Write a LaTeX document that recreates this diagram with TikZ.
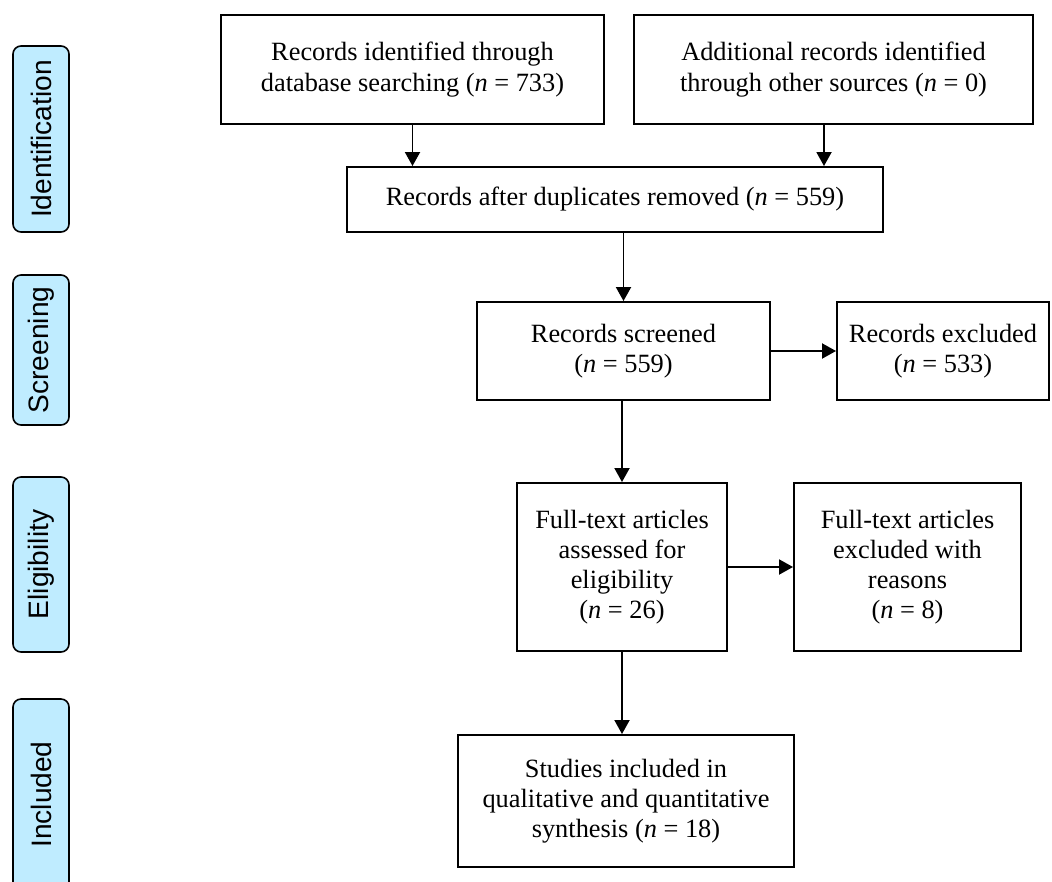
\documentclass[tikz,border=0pt]{standalone}
\usepackage{fontspec}
\setmainfont{Liberation Serif}
\setsansfont{Liberation Sans}
\usepackage{xcolor}
\usepackage{tikz}
\usetikzlibrary{positioning,arrows.meta,calc}
\definecolor{phasecolor}{RGB}{191,236,255}
\tikzset{
  flow box/.style={
    rectangle,
    draw=black,
    line width=1.1pt,
    align=center,
    inner sep=2pt,
    font=\fontsize{15}{17.2}\selectfont
  },
  phase label/.style={
    rectangle,
    rounded corners=0.16cm,
    draw=black,
    fill=phasecolor,
    line width=0.9pt,
    rotate=90,
    minimum height=1.12cm,
    inner sep=1pt,
    font=\sffamily\fontsize{16}{19}\selectfont
  },
  arrow/.style={
    -{Triangle[length=0.28cm,width=0.3cm]},
    line width=1.1pt
  }
}
\newcommand{\nval}[1]{(\textit{n} = #1)}

\begin{document}
\begin{tikzpicture}
  \useasboundingbox (0,0) rectangle (21.04,-17.64);

  % Phase labels
  \node[phase label, minimum width=3.72cm] (ident) at (0.82,-2.78) {Identification};
  \node[phase label, minimum width=3.00cm] (screen) at (0.82,-7.00) {Screening};
  \node[phase label, minimum width=3.50cm] (elig) at (0.82,-11.29) {Eligibility};
  \node[phase label, minimum width=3.82cm] (incl) at (0.82,-15.89) {Included};

  % Flow boxes
  \node[flow box, minimum width=7.66cm, minimum height=2.18cm] (db) at (8.25,-1.39)
    {Records identified through\\database searching \nval{733}};
  \node[flow box, minimum width=7.98cm, minimum height=2.18cm] (other) at (16.67,-1.39)
    {Additional records identified\\through other sources \nval{0}};
  \node[flow box, minimum width=10.72cm, minimum height=1.30cm] (dup) at (12.30,-3.99)
    {Records after duplicates removed \nval{559}};
  \node[flow box, minimum width=5.86cm, minimum height=1.96cm] (scr) at (12.47,-7.02)
    {Records screened\\\nval{559}};
  \node[flow box, minimum width=4.24cm, minimum height=1.96cm] (excl) at (18.86,-7.02)
    {Records excluded\\\nval{533}};
  \node[flow box, minimum width=4.20cm, minimum height=3.36cm] (full) at (12.44,-11.34)
    {Full-text articles\\assessed for\\eligibility\\\nval{26}};
  \node[flow box, minimum width=4.54cm, minimum height=3.36cm] (reas) at (18.15,-11.34)
    {Full-text articles\\excluded with\\reasons\\\nval{8}};
  \node[flow box, minimum width=6.72cm, minimum height=2.64cm] (stud) at (12.52,-16.02)
    {Studies included in\\qualitative and quantitative\\synthesis \nval{18}};

  % Connectors
  \draw[arrow] (db.south) -- (db.south |- dup.north);
  \draw[arrow] ([xshift=-0.19cm]other.south) -- ([xshift=-0.19cm]other.south |- dup.north);
  \draw[arrow] (dup.south -| scr.north) -- (scr.north);
  \draw[arrow] (scr.east) -- (excl.west);
  \draw[arrow] (scr.south -| full.north) -- (full.north);
  \draw[arrow] (full.east) -- (reas.west);
  \draw[arrow] (full.south) -- (full.south |- stud.north);
\end{tikzpicture}
\end{document}
